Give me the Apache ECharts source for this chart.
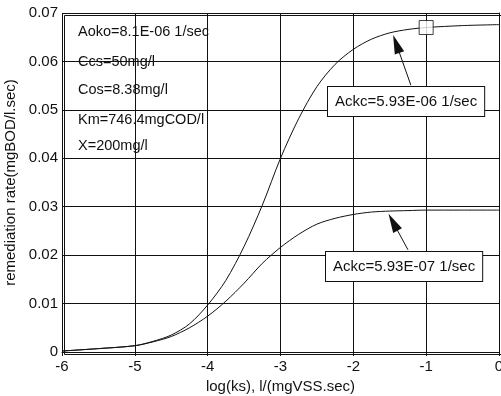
<!DOCTYPE html>
<html>
<head>
<meta charset="utf-8">
<script src="https://cdn.jsdelivr.net/npm/echarts@6/dist/echarts.min.js"></script>
<style>
  html, body { margin: 0; padding: 0; background: #fff; }
  #chart { width: 501px; height: 396px; }
</style>
</head>
<body>
<div id="chart"></div>
<script>
// log(ks) sample points
const logKs = [-6, -5.5, -5, -4.75, -4.5, -4.25, -4, -3.75, -3.5, -3.25, -3, -2.75, -2.5, -2.25, -2, -1.75, -1.5, -1.25, -1, -0.5, 0]
// Ackc = 5.93E-06
const rateHigh = [0.0002, 0.0007, 0.0013, 0.0022, 0.0035, 0.0058, 0.0097, 0.0148, 0.0218, 0.0303, 0.0400, 0.0482, 0.0548, 0.0594, 0.0625, 0.0646, 0.0659, 0.0666, 0.0670, 0.0674, 0.0676]
// Ackc = 5.93E-07
const rateLow = [0.0002, 0.0007, 0.0013, 0.0021, 0.0032, 0.0050, 0.0074, 0.0105, 0.0142, 0.0183, 0.0216, 0.0243, 0.0264, 0.0276, 0.0284, 0.0289, 0.0291, 0.0292, 0.0293, 0.0293, 0.0293]
const markerPoint = [-1, 0.0670]
const params = ['Aoko=8.1E-06 1/sec', 'Ccs=50mg/l', 'Cos=8.38mg/l', 'Km=746.4mgCOD/l', 'X=200mg/l']
const labelHigh = 'Ackc=5.93E-06 1/sec'
const labelLow = 'Ackc=5.93E-07 1/sec'
// arrows: [tail, head centre] in data coords
const arrowHigh = [[-1.21, 0.0551], [-1.41, 0.0636]]
const arrowLow = [[-1.25, 0.0211], [-1.455, 0.0268]]

const font = 'Liberation Sans, Arial, sans-serif'
const black = '#111'

const chart = echarts.init(document.getElementById('chart'))

const arrowLine = a => ({
  silent: true,
  symbol: ['none', 'triangle'],
  label: { show: false },
  lineStyle: { color: black, width: 1, type: 'solid' },
  data: [[{ coord: a[0] }, { coord: a[1], symbolSize: [10, 19] }]]
})

const boxText = (text, x, y) => ({
  type: 'text',
  left: x,
  top: y,
  z: 100,
  style: {
    text,
    font: '15px ' + font,
    fill: black,
    backgroundColor: '#fff',
    borderColor: black,
    borderWidth: 1,
    padding: [7, 7, 7, 7]
  }
})

chart.setOption({
  animation: false,
  textStyle: { fontFamily: font },
  grid: { left: 62, right: 2, top: 13, bottom: 44, outerBoundsMode: 'none' },
  xAxis: {
    type: 'value',
    min: -6,
    max: 0,
    interval: 1,
    name: 'log(ks), l/(mgVSS.sec)',
    nameLocation: 'middle',
    nameGap: 26,
    nameTextStyle: { color: black, fontSize: 15 },
    axisLine: { onZero: false, lineStyle: { color: black, width: 1 } },
    axisTick: { show: true, length: 4, lineStyle: { color: black } },
    axisLabel: { color: black, fontSize: 15, margin: 7 },
    splitLine: { show: true, lineStyle: { color: black, width: 1 } }
  },
  yAxis: {
    type: 'value',
    min: 0,
    max: 0.07,
    interval: 0.01,
    name: 'remediation rate(mgBOD/l.sec)',
    nameLocation: 'middle',
    nameGap: 44,
    nameTextStyle: { color: black, fontSize: 15 },
    axisLine: { show: true, lineStyle: { color: black, width: 1 } },
    axisTick: { show: true, length: 3, lineStyle: { color: black } },
    axisLabel: { color: black, fontSize: 15, margin: 4, formatter: v => v === 0 ? '0' : v.toFixed(2) },
    splitLine: { show: true, lineStyle: { color: black, width: 1 } }
  },
  graphic: [
    { type: 'rect', left: 62, top: 13, z: 1, silent: true,
      shape: { width: 437, height: 339 }, style: { fill: 'none', stroke: black, lineWidth: 1 } },
    ...params.map((t, i) => ({
      type: 'text', left: 78, top: [24, 54, 82, 112, 138][i], z: 50,
      style: { text: t, font: '14.5px ' + font, fill: black }
    })),
    boxText(labelHigh, 327, 86),
    boxText(labelLow, 325, 251)
  ],
  series: [
    {
      type: 'line',
      data: logKs.map((x, i) => [x, rateHigh[i]]),
      smooth: 0.3,
      symbol: 'none',
      lineStyle: { color: black, width: 1 },
      markLine: arrowLine(arrowHigh)
    },
    {
      type: 'line',
      data: logKs.map((x, i) => [x, rateLow[i]]),
      smooth: 0.3,
      symbol: 'none',
      lineStyle: { color: black, width: 1 },
      markLine: arrowLine(arrowLow)
    },
    {
      type: 'scatter',
      data: [markerPoint],
      symbol: 'rect',
      symbolSize: 14,
      z: 5,
      itemStyle: { color: '#fff', borderColor: black, borderWidth: 1 }
    }
  ]
})
</script>
</body>
</html>
